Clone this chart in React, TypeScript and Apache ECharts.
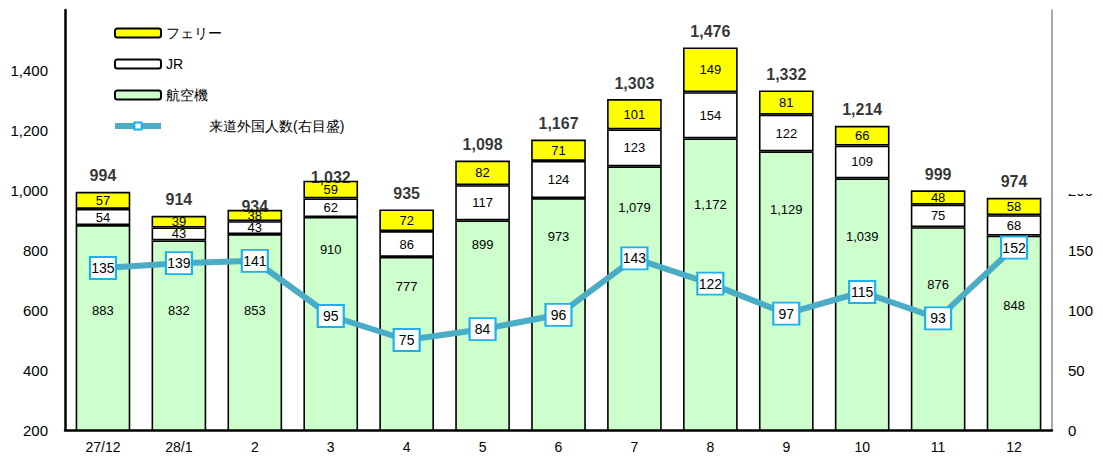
import React, { useEffect, useRef } from "react";
import * as echarts from "echarts";

const categories = ["27/12", "28/1", "2", "3", "4", "5", "6", "7", "8", "9", "10", "11", "12"];
const airplane = [883, 832, 853, 910, 777, 899, 973, 1079, 1172, 1129, 1039, 876, 848];
const jr = [54, 43, 43, 62, 86, 117, 124, 123, 154, 122, 109, 75, 68];
const ferry = [57, 39, 38, 59, 72, 82, 71, 101, 149, 81, 66, 48, 58];
const totals = [994, 914, 934, 1032, 935, 1098, 1167, 1303, 1476, 1332, 1214, 999, 974];
const visitors = [135, 139, 141, 95, 75, 84, 96, 143, 122, 97, 115, 93, 152];

// label placement tweaks (pixels)
const airLabelDistance = [79, 64, 70, 26, 23, 18, 32, 35, 60, 52, 52, 51, 63];
const totalLabelDistance = [8, 8, -5, -5, 8, 8, 8, 8, 8, 8, 8, 8, 8];

const FONT = "'Liberation Sans', Arial, sans-serif";
const fmt = (v: number) => v.toLocaleString("en-US");

export default function App() {
  const ref = useRef<HTMLDivElement>(null);
  useEffect(() => {
    if (!ref.current) return;
    const chart = echarts.init(ref.current, null, { renderer: "svg" });
    const border = { borderColor: "#000", borderWidth: 1.6 };
    chart.setOption({
      animation: false,
      textStyle: { fontFamily: FONT },
      legend: {
        orient: "vertical",
        left: 107,
        top: 21,
        itemWidth: 46,
        itemHeight: 9,
        itemGap: 17,
        textStyle: { fontSize: 14, color: "#000", fontFamily: FONT },
        data: [
          { name: "フェリー" },
          { name: "JR" },
          { name: "航空機" },
          {
            name: "来道外国人数(右目盛)",
            textStyle: { padding: [0, 0, 0, 43] },
            lineStyle: { width: 6, color: "#4BACC6" },
          },
        ],
      },
      grid: { left: 65, right: 51, top: 10, bottom: 29 },
      xAxis: {
        type: "category",
        data: categories,
        axisLine: { lineStyle: { color: "#000", width: 2.5 } },
        axisTick: { show: false },
        axisLabel: { fontSize: 14, color: "#000", margin: 10 },
      },
      yAxis: [
        {
          type: "value",
          min: 200,
          max: 1600,
          interval: 200,
          axisLine: { show: true, lineStyle: { color: "#000", width: 2.5 } },
          axisTick: { show: false },
          splitLine: { show: false },
          axisLabel: {
            fontSize: 15,
            color: "#000",
            margin: 17,
            formatter: (v: number) => (v > 1400 ? "" : fmt(v)),
          },
        },
        {
          type: "value",
          min: 0,
          max: 350,
          interval: 50,
          position: "right",
          axisLine: { show: true, lineStyle: { color: "#8c8c8c", width: 1.5 } },
          axisTick: { show: false },
          splitLine: { show: false },
          axisLabel: {
            fontSize: 15,
            color: "#000",
            margin: 16,
            formatter: (v: number) => (v > 200 ? "" : String(v)),
          },
        },
      ],
      series: [
        {
          name: "航空機",
          type: "bar",
          stack: "total",
          barWidth: "72%",
          itemStyle: { color: "#CCFFCC", ...border },
          label: {
            show: true,
            position: "insideTop",
            fontSize: 13,
            color: "#000",
            formatter: (p: any) => fmt(p.value),
          },
          data: airplane.map((v, i) => ({
            value: v,
            label: { distance: airLabelDistance[i] },
          })),
        },
        {
          name: "JR",
          type: "bar",
          stack: "total",
          itemStyle: { color: "#FFFFFF", ...border },
          label: { show: true, position: "inside", fontSize: 13, color: "#000" },
          data: jr,
        },
        {
          name: "フェリー",
          type: "bar",
          stack: "total",
          itemStyle: { color: "#FFFF00", ...border },
          label: { show: true, position: "inside", fontSize: 13, color: "#000" },
          data: ferry,
        },
        {
          name: "totals",
          type: "scatter",
          symbolSize: 0,
          silent: true,
          z: 5,
          label: {
            show: true,
            position: "top",
            fontSize: 16,
            fontWeight: "bold",
            color: "#000",
            formatter: (p: any) => fmt(p.value),
          },
          data: totals.map((v, i) => ({ value: v, label: { distance: totalLabelDistance[i] } })),
        },
        {
          name: "来道外国人数(右目盛)",
          type: "line",
          yAxisIndex: 1,
          z: 10,
          symbol: "rect",
          symbolSize: [26, 22],
          lineStyle: { color: "#4BACC6", width: 6 },
          itemStyle: { color: "#FFFFFF", borderColor: "#1CB0EE", borderWidth: 2 },
          label: { show: true, position: "inside", fontSize: 14, color: "#000" },
          data: visitors,
        },
      ],
      graphic: [
        {
          type: "rect",
          shape: { x: 1056, y: 170, width: 47, height: 24 },
          style: { fill: "#fff" },
          z: 100,
        },
      ],
    });
    return () => chart.dispose();
  }, []);
  return (
    <div
      ref={ref}
      style={{ width: 1103, height: 459, position: "absolute", left: 0, top: 0 }}
    />
  );
}
